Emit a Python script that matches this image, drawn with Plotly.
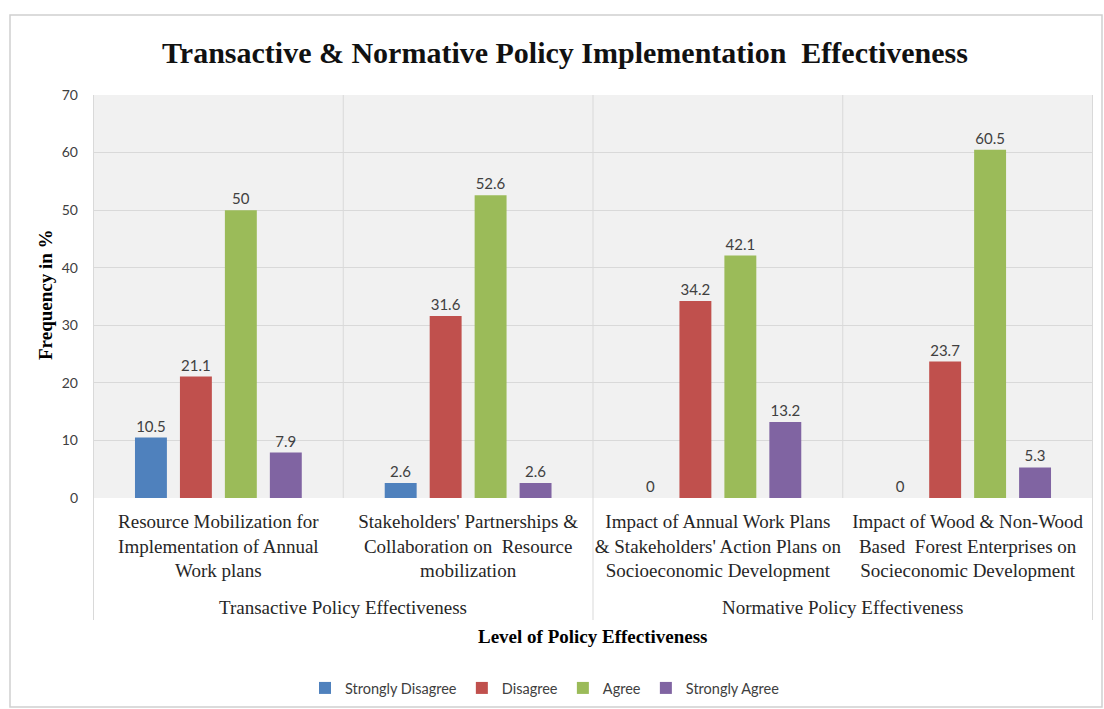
import plotly.graph_objects as go

# Survey results (% of respondents) per policy aspect
categories = [
    "Resource Mobilization for<br>Implementation of Annual<br>Work plans",
    "Stakeholders' Partnerships &<br>Collaboration on  Resource<br>mobilization",
    "Impact of Annual Work Plans<br>& Stakeholders' Action Plans on<br>Socioeconomic Development",
    "Impact of Wood & Non-Wood<br>Based  Forest Enterprises on<br>Socieconomic Development",
]
groups = ["Transactive Policy Effectiveness", "Normative Policy Effectiveness"]
series_names = ["Strongly Disagree", "Disagree", "Agree", "Strongly Agree"]
strongly_disagree = [10.5, 2.6, 0, 0]
disagree = [21.1, 31.6, 34.2, 23.7]
agree = [50, 52.6, 42.1, 60.5]
strongly_agree = [7.9, 2.6, 13.2, 5.3]
y_ticks = [0, 10, 20, 30, 40, 50, 60, 70]

series_values = [strongly_disagree, disagree, agree, strongly_agree]
colors = ["#4f81bd", "#c0504d", "#9bbb59", "#8064a2"]

W, H = 1104, 709
L, R, T, B = 93, 11, 95, 211
plot_w = W - L - R
plot_h = H - T - B

SERIF = "Liberation Serif, Times New Roman, serif"
SANS = "Lato, Noto Sans, sans-serif"


def px_x(px):
    return (px - L) / plot_w


def px_y(py):
    return (H - B - py) / plot_h


fig = go.Figure()
for name, vals, col in zip(series_names, series_values, colors):
    fig.add_trace(go.Bar(
        name=name,
        x=categories,
        y=vals,
        marker=dict(color=col, line=dict(width=0)),
        text=[f"{v:g}" for v in vals],
        textposition="outside",
        textfont=dict(family=SANS, size=15, color="#404040"),
        cliponaxis=False,
    ))

grid_col = "#d9d9d9"
shapes = []
# separators between categories inside the plot
for xpos in [0.5, 2.5]:
    shapes.append(dict(type="line", xref="x", yref="paper", x0=xpos, x1=xpos,
                       y0=0, y1=1, line=dict(color=grid_col, width=1)))
# group separators extend down through the label area
for xpos in [-0.5, 1.5, 3.5]:
    shapes.append(dict(type="line", xref="x", yref="paper", x0=xpos, x1=xpos,
                       y0=px_y(620), y1=1, line=dict(color=grid_col, width=1)))
# chart frame
shapes.append(dict(type="rect", xref="paper", yref="paper",
                   x0=px_x(10), x1=px_x(1102), y0=px_y(707), y1=px_y(15),
                   line=dict(color="#d0d0d0", width=1.5), layer="below"))

annotations = []
for i, g in enumerate(groups):
    annotations.append(dict(
        text=g, xref="x", yref="paper", x=0.5 + 2 * i, y=px_y(607),
        showarrow=False, yanchor="middle",
        font=dict(family=SERIF, size=19, color="#262626")))
annotations.append(dict(
    text="<b>Level of Policy Effectiveness</b>", xref="paper", yref="paper",
    x=px_x(593), y=px_y(636), showarrow=False, yanchor="middle",
    font=dict(family=SERIF, size=19, color="#000000")))
annotations.append(dict(
    text="<b>Frequency in %</b>", xref="paper", yref="paper",
    x=px_x(45), y=px_y(295), showarrow=False, textangle=-90,
    xanchor="center", yanchor="middle",
    font=dict(family=SERIF, size=19, color="#000000")))

fig.update_layout(
    width=W, height=H,
    margin=dict(l=L, r=R, t=T, b=B, autoexpand=False),
    paper_bgcolor="#ffffff",
    plot_bgcolor="#f1f1f1",
    barmode="group",
    bargap=0.28,
    bargroupgap=0.29,
    title=dict(
        text="<b>Transactive & Normative Policy Implementation  Effectiveness</b>",
        x=px_x(565), xref="paper", xanchor="center",
        y=1 - 52 / H, yref="container", yanchor="middle",
        font=dict(family=SERIF, size=30, color="#111111"),
    ),
    xaxis=dict(
        type="category",
        showgrid=False,
        showline=False,
        ticks="",
        tickfont=dict(family=SERIF, size=19, color="#262626"),
        ticklabelstandoff=10,
    ),
    yaxis=dict(
        range=[0, 70],
        tickvals=y_ticks,
        showgrid=True,
        gridcolor=grid_col,
        gridwidth=1,
        zeroline=False,
        showline=False,
        ticks="",
        tickfont=dict(family=SANS, size=14, color="#404040"),
        ticklabelstandoff=14,
    ),
    legend=dict(
        orientation="h",
        x=px_x(545), xanchor="center",
        y=px_y(688), yanchor="middle",
        font=dict(family=SANS, size=14.5, color="#404040"),
        itemwidth=30,
        tracegroupgap=0,
    ),
    shapes=shapes,
    annotations=annotations,
    showlegend=True,
)

fig.write_html("out.html")
